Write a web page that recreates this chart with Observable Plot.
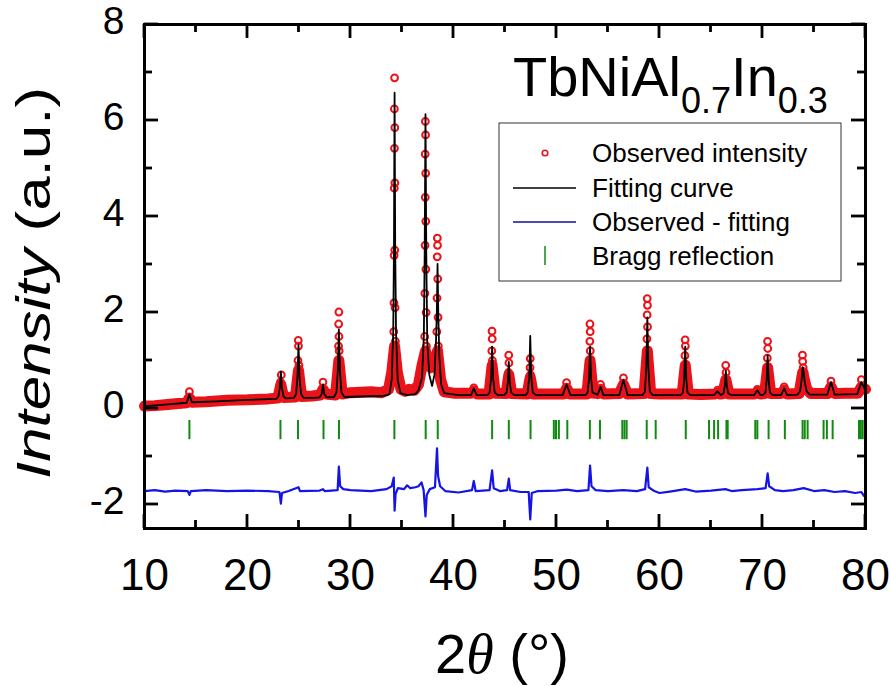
<!DOCTYPE html>
<html><head><meta charset="utf-8">
<script src="https://cdn.jsdelivr.net/npm/d3@7"></script>
<script src="https://cdn.jsdelivr.net/npm/@observablehq/plot@0.6"></script>
<style>body{margin:0;background:#fff}</style>
</head><body><div id="chart"></div>
<script>
// ---- data ----
const xTicksMajor = [10, 20, 30, 40, 50, 60, 70, 80];
const xTicksMinor = [15, 25, 35, 45, 55, 65, 75];
const yTicksMajor = [-2, 0, 2, 4, 6, 8];
const yTicksMinor = [-1, 1, 3, 5, 7];

// fitted (calculated) curve vertices [2theta, intensity]
const fitCurve = [
[10,0.05],[12,0.08],[14.1,0.12],[14.36,0.29],[14.6,0.13],[17,0.15],[20,0.18],[22.8,0.2],
[23.0,0.25],[23.14,0.43],[23.24,0.77],[23.34,0.43],[23.5,0.25],[23.75,0.21],
[24.5,0.22],[24.72,0.3],[24.85,0.66],[24.95,1.33],[25.05,0.66],[25.2,0.3],[25.45,0.22],
[26.5,0.22],[27.0,0.23],[27.2,0.3],[27.33,0.5],[27.46,0.3],[27.7,0.23],
[28.4,0.24],[28.64,0.34],[28.77,0.8],[28.87,1.65],[28.97,0.8],[29.12,0.34],[29.4,0.24],
[31,0.25],[33,0.26],[33.6,0.28],
[33.78,0.3],[34.0,0.6],[34.15,1.6],[34.22,3.4],[34.28,6.58],[34.34,3.4],[34.42,1.6],[34.58,0.6],[34.85,0.32],
[35.5,0.28],[36.3,0.3],
[36.6,0.38],[36.95,0.65],[37.12,1.5],[37.2,3.2],[37.28,6.13],[37.36,3.2],[37.45,1.4],[37.65,0.7],[37.92,0.47],
[38.15,0.7],[38.3,1.4],[38.38,2.0],[38.45,3.01],[38.52,2.0],[38.62,1.1],[38.8,0.5],[39.1,0.32],
[40.5,0.28],[41.7,0.28],[41.97,0.42],[42.25,0.28],[43.3,0.28],
[43.5,0.33],[43.65,0.62],[43.75,1.29],[43.85,0.62],[44.0,0.33],[44.3,0.28],[44.9,0.28],
[45.15,0.33],[45.28,0.55],[45.37,0.97],[45.46,0.55],[45.6,0.33],[45.9,0.28],[47.0,0.28],
[47.2,0.33],[47.35,0.65],[47.45,1.51],[47.55,0.65],[47.7,0.33],[48.0,0.28],
[50.6,0.28],[50.98,0.5],[51.35,0.28],[52.8,0.28],
[53.02,0.33],[53.16,0.62],[53.26,1.29],[53.36,0.62],[53.5,0.33],
[54.0,0.29],[54.28,0.45],[54.55,0.28],[56.1,0.28],[56.5,0.6],[56.9,0.28],[58.35,0.28],
[58.58,0.35],[58.72,0.85],[58.82,1.9],[58.92,0.85],[59.06,0.35],[59.35,0.28],[62.05,0.28],
[62.28,0.33],[62.4,0.62],[62.5,1.29],[62.6,0.62],[62.72,0.33],[63.0,0.28],
[65.3,0.28],[65.63,0.36],[65.95,0.28],
[66.22,0.32],[66.35,0.48],[66.44,0.79],[66.53,0.48],[66.66,0.32],[66.95,0.28],
[69.2,0.28],[69.5,0.38],[69.8,0.28],[70.1,0.29],
[70.28,0.33],[70.4,0.58],[70.5,1.11],[70.6,0.58],[70.72,0.33],[71.0,0.28],
[71.8,0.28],[72.1,0.42],[72.4,0.28],[73.4,0.29],
[73.65,0.36],[73.8,0.6],[73.9,0.86],[74.0,0.75],[74.1,0.55],[74.3,0.35],[74.6,0.29],
[76.3,0.29],[76.65,0.55],[77.0,0.29],[79.2,0.3],[79.6,0.55],[80.0,0.38]
];

// observed intensity: dense band of overlapping points (traced outline)
const observedBand = [
[10,0.05],[11,0.06],[12,0.08],[13,0.1],[14.1,0.12],[14.36,0.22],[14.6,0.13],[16,0.14],[18,0.17],[20,0.18],
[22,0.2],[22.95,0.22],[23.24,0.5],[23.5,0.23],[24.65,0.24],[24.95,0.8],[25.25,0.25],[26.3,0.26],
[27.05,0.28],[27.33,0.4],[27.6,0.3],[28.55,0.28],[28.87,1.0],[29.2,0.3],[30,0.33],[31,0.34],[32,0.35],
[33,0.33],[33.7,0.4],[34.0,0.75],[34.28,1.3],[34.55,0.75],[34.9,0.4],[35.3,0.36],[35.7,0.4],[36.2,0.38],
[36.6,0.5],[36.95,0.9],[37.28,1.2],[37.55,0.95],[37.8,0.85],[38.1,0.9],[38.45,1.2],[38.75,0.6],[39.1,0.35],
[40,0.32],[41.7,0.32],[41.97,0.36],[42.3,0.3],[43.45,0.3],[43.75,0.9],[44.05,0.32],[45.1,0.31],[45.37,0.7],
[45.65,0.31],[47.15,0.3],[47.45,0.65],[47.75,0.3],[49,0.3],[50.7,0.3],[50.98,0.42],[51.3,0.3],[52.95,0.3],
[53.26,1.0],[53.55,0.32],[54.0,0.31],[54.28,0.4],[54.6,0.3],[56.1,0.31],[56.5,0.5],[56.9,0.3],[58.5,0.31],
[58.82,1.2],[59.15,0.31],[60,0.3],[62.2,0.3],[62.5,0.9],[62.8,0.3],[64,0.29],[65.35,0.3],[65.63,0.32],
[65.95,0.3],[66.15,0.31],[66.44,0.6],[66.75,0.3],[68,0.3],[69.2,0.3],[69.5,0.34],[69.8,0.3],[70.2,0.31],
[70.5,0.85],[70.8,0.31],[71.8,0.31],[72.1,0.38],[72.4,0.3],[73.55,0.31],[73.9,0.75],[74.3,0.4],[74.7,0.31],
[76.3,0.31],[76.65,0.45],[77,0.31],[78,0.32],[79.25,0.32],[79.6,0.45],[80,0.4]
];

// observed intensity: individual circles on peak flanks
const observedPoints = [
[14.36,0.35],[23.2,0.55],[23.28,0.7],
[24.93,1.42],[24.95,1.3],[24.9,1.0],[25.0,0.9],[24.88,0.7],[25.03,0.6],
[27.33,0.55],
[28.87,2.01],[28.85,1.76],[28.88,1.5],[28.84,1.3],[28.9,1.2],[28.83,0.95],[28.92,0.8],
[34.28,6.89],[34.26,6.24],[34.3,5.85],[34.27,5.42],[34.25,4.59],[34.31,4.7],[34.24,3.19],[34.3,3.3],
[34.22,2.2],[34.33,2.1],[34.2,1.6],[34.36,1.4],[34.18,1.1],[34.4,1.0],[34.15,0.8],[34.45,0.75],
[37.27,5.98],[37.29,5.7],[37.25,5.3],[37.3,4.9],[37.26,4.4],[37.31,3.9],[37.24,3.4],[37.32,2.9],
[37.22,2.4],[37.34,2.0],[37.2,1.5],[37.37,1.3],[37.15,1.0],[37.4,0.95],[36.95,0.95],[37.6,0.95],[37.75,0.88],
[38.43,3.55],[38.45,3.4],[38.42,3.16],[38.47,2.7],[38.4,2.3],[38.5,1.9],[38.38,1.6],[38.53,1.3],[38.35,1.1],[38.58,0.9],
[41.97,0.43],
[43.74,1.61],[43.76,1.45],[43.72,1.2],[43.78,1.0],[43.7,0.8],
[45.36,1.11],[45.38,0.95],[45.34,0.75],
[47.45,1.04],[47.43,0.85],[47.48,0.7],
[50.98,0.54],
[53.25,1.76],[53.27,1.6],[53.24,1.4],[53.28,1.2],[53.22,1.0],[53.3,0.85],
[54.28,0.5],[56.5,0.64],
[58.81,2.29],[58.83,2.15],[58.8,1.95],[58.84,1.7],[58.78,1.45],[58.86,1.2],[58.76,1.0],[58.9,0.85],
[62.49,1.43],[62.51,1.3],[62.47,1.1],[62.53,0.9],[62.45,0.75],
[65.63,0.38],[66.43,0.9],[66.46,0.75],[69.5,0.4],
[70.49,1.4],[70.51,1.25],[70.47,1.05],[70.53,0.85],[70.45,0.7],
[72.1,0.45],
[73.88,1.11],[73.9,0.98],[73.95,0.85],[74.05,0.75],[73.82,0.7],
[76.65,0.57],[79.6,0.6]
];

// observed - fitting (offset curve)
const difference = [
[10,-1.72],[11,-1.7],[12,-1.73],[13,-1.71],[14.2,-1.72],[14.36,-1.8],[14.5,-1.72],[16,-1.7],[18,-1.72],
[20,-1.71],[22,-1.72],[23.1,-1.74],[23.24,-1.98],[23.35,-1.76],[24,-1.72],[24.95,-1.64],[25.1,-1.72],
[27,-1.71],[27.33,-1.68],[27.5,-1.72],[28.75,-1.7],[28.87,-1.21],[29.0,-1.62],[29.3,-1.68],[30,-1.7],
[32,-1.72],[33.5,-1.68],[34.0,-1.62],[34.2,-1.44],[34.28,-2.13],[34.38,-1.78],[34.6,-1.66],[35.2,-1.68],
[35.5,-1.6],[35.8,-1.66],[36.3,-1.64],[36.6,-1.62],[36.9,-1.54],[37.1,-1.7],[37.28,-2.25],[37.4,-1.8],
[37.7,-1.68],[38.2,-1.64],[38.4,-0.83],[38.5,-1.4],[38.7,-1.62],[39.2,-1.72],[40.5,-1.75],[41.8,-1.7],
[41.97,-1.51],[42.15,-1.72],[43.5,-1.7],[43.75,-1.29],[43.9,-1.66],[44.5,-1.72],[45.2,-1.7],[45.37,-1.46],
[45.5,-1.7],[46.5,-1.74],[47.3,-1.74],[47.45,-2.31],[47.6,-1.76],[48.2,-1.72],[50,-1.71],[51,-1.69],
[52,-1.72],[53.1,-1.7],[53.26,-1.19],[53.4,-1.62],[53.8,-1.7],[55,-1.72],[56.5,-1.7],[57.8,-1.72],
[58.6,-1.68],[58.82,-1.23],[58.95,-1.64],[59.5,-1.72],[60,-1.76],[61,-1.73],[62.5,-1.68],[63.5,-1.73],
[65,-1.71],[66.4,-1.68],[67,-1.72],[68,-1.7],[69.5,-1.68],[70.3,-1.66],[70.5,-1.35],[70.65,-1.62],
[71.2,-1.7],[72,-1.72],[73,-1.7],[74,-1.66],[75,-1.72],[76,-1.7],[77,-1.74],[78,-1.72],[79,-1.76],
[79.6,-1.74],[79.85,-1.82],[80,-1.78]
];

// Bragg reflection positions
const braggPositions = [14.36,23.2,24.9,27.38,28.88,34.26,37.3,38.47,43.75,45.37,47.48,49.74,49.95,50.23,
51.05,53.24,54.22,56.39,56.6,56.81,58.76,59.63,62.55,64.81,65.3,65.69,66.5,66.62,69.3,69.5,70.59,72.17,
73.89,74.1,74.38,75.93,76.25,76.81,79.37,79.55,79.73];

const legendLabels = ["Observed intensity", "Fitting curve", "Observed - fitting", "Bragg reflection"];

// ---- chart ----
const RED = "#ea1319", BLUE = "#1414e6", GREEN = "#118a11";
const X = d => d[0], Y = d => d[1];
const XMIN = 10, XMAX = 80, YMIN = -2.5, YMAX = 8;

const plot = Plot.plot({
  width: 890, height: 686,
  marginLeft: 144, marginRight: 25, marginTop: 24, marginBottom: 158,
  x: {domain: [XMIN, XMAX]},
  y: {domain: [YMIN, YMAX]},
  style: {fontFamily: "'Liberation Sans', Arial, sans-serif", background: "white", color: "black"},
  marks: [
    Plot.line(observedBand, {x: X, y: Y, stroke: RED, strokeWidth: 11, strokeLinejoin: "round"}),
    Plot.dot(observedPoints, {x: X, y: Y, r: 3.4, stroke: RED, strokeWidth: 2, fill: "none"}),
    Plot.line(fitCurve, {x: X, y: Y, stroke: "black", strokeWidth: 1.8}),
    Plot.line(difference, {x: X, y: Y, stroke: BLUE, strokeWidth: 2.2}),
    Plot.ruleX(braggPositions, {x: d => d, y1: -0.25, y2: -0.65, stroke: GREEN, strokeWidth: 2}),
    Plot.frame({stroke: "black", strokeWidth: 3}),
    Plot.axisX({anchor: "bottom", ticks: xTicksMajor, tickSize: 0, tickPadding: 30, fontSize: 44, label: null, tickFormat: d => String(d)}),
    Plot.axisY({anchor: "left", ticks: yTicksMajor, tickSize: 0, tickPadding: 20, fontSize: 39, dy: -3, label: null, tickFormat: d => String(d)})
  ]
});

document.getElementById("chart").appendChild(plot);
const svg = d3.select(plot);
const SANS = "'Liberation Sans', Arial, sans-serif";

// inward ticks on all four sides, positioned through Plot's own scales
const sx = plot.scale("x"), sy = plot.scale("y");
const x0 = sx.apply(XMIN), x1 = sx.apply(XMAX), y0 = sy.apply(YMIN), y1 = sy.apply(YMAX);
const tg = svg.append("g").attr("stroke", "black").attr("stroke-width", 2.8);
[[xTicksMajor, 14], [xTicksMinor, 8]].forEach(([vals, len]) => vals.forEach(v => {
  const px = sx.apply(v);
  tg.append("line").attr("x1", px).attr("x2", px).attr("y1", y0).attr("y2", y0 - len);
  tg.append("line").attr("x1", px).attr("x2", px).attr("y1", y1).attr("y2", y1 + len);
}));
[[yTicksMajor, 14], [yTicksMinor, 8]].forEach(([vals, len]) => vals.forEach(v => {
  const py = sy.apply(v);
  tg.append("line").attr("x1", x0).attr("x2", x0 + len).attr("y1", py).attr("y2", py);
  tg.append("line").attr("x1", x1).attr("x2", x1 - len).attr("y1", py).attr("y2", py);
}));

// y-axis title
const yt = svg.append("text")
  .attr("transform", "translate(50,283) rotate(-90)")
  .attr("text-anchor", "middle").attr("font-family", SANS).attr("font-size", 48).attr("fill", "black")
  .attr("textLength", 392).attr("lengthAdjust", "spacingAndGlyphs");
yt.append("tspan").attr("font-style", "italic").text("Intensity");
yt.append("tspan").text(" (a.u.)");

// x-axis title
const xt = svg.append("text")
  .attr("x", 502).attr("y", 673)
  .attr("text-anchor", "middle").attr("font-family", SANS).attr("font-size", 56).attr("fill", "black");
xt.append("tspan").text("2");
xt.append("tspan").attr("font-family", "'Liberation Serif', 'DejaVu Serif', serif").attr("font-style", "italic").text("θ");
xt.append("tspan").text(" (°)");

// compound title
const tt = svg.append("text").attr("x", 513).attr("y", 96).attr("text-anchor", "start")
  .attr("font-family", SANS).attr("font-size", 56).attr("fill", "black");
tt.append("tspan").text("TbNiAl");
tt.append("tspan").attr("font-size", 36).attr("dy", 17).text("0.7");
tt.append("tspan").attr("dy", -17).text("In");
tt.append("tspan").attr("font-size", 36).attr("dy", 17).text("0.3");

// legend
const lg = svg.append("g");
lg.append("rect").attr("x", 499).attr("y", 123).attr("width", 342).attr("height", 158)
  .attr("fill", "white").attr("stroke", "#333").attr("stroke-width", 1);
const rows = [153, 188, 222, 256];
lg.append("circle").attr("cx", 545).attr("cy", rows[0]).attr("r", 2.8)
  .attr("fill", "white").attr("stroke", RED).attr("stroke-width", 1.6);
lg.append("line").attr("x1", 513).attr("x2", 576).attr("y1", rows[1]).attr("y2", rows[1])
  .attr("stroke", "black").attr("stroke-width", 1.5);
lg.append("line").attr("x1", 513).attr("x2", 576).attr("y1", rows[2]).attr("y2", rows[2])
  .attr("stroke", "#1010a0").attr("stroke-width", 1.5);
lg.append("line").attr("x1", 545).attr("x2", 545).attr("y1", rows[3] - 10).attr("y2", rows[3] + 9)
  .attr("stroke", GREEN).attr("stroke-width", 1.5);
legendLabels.forEach((t, i) => {
  lg.append("text").attr("x", 592).attr("y", rows[i] + 9).attr("text-anchor", "start")
    .attr("font-family", SANS).attr("font-size", 26).attr("fill", "black").text(t);
});
</script>
</body></html>
